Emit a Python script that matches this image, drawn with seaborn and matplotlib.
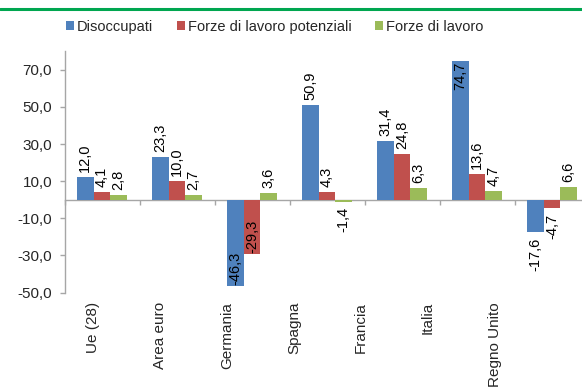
import numpy as np
import pandas as pd
import matplotlib
matplotlib.use("Agg")
import matplotlib.pyplot as plt
from matplotlib.lines import Line2D
from matplotlib.patches import Patch
import seaborn as sns

# ---- data ----
paesi = ["Ue (28)", "Area euro", "Germania", "Spagna", "Francia", "Italia", "Regno Unito"]
serie = ["Disoccupati", "Forze di lavoro potenziali", "Forze di lavoro"]
disoccupati = [12.0, 23.3, -46.3, 50.9, 31.4, 74.7, -17.6]
forze_potenziali = [4.1, 10.0, -29.3, 4.3, 24.8, 13.6, -4.7]
forze_lavoro = [2.8, 2.7, 3.6, -1.4, 6.3, 4.7, 6.6]
y_ticks = [-50, -30, -10, 10, 30, 50, 70]

colori = ["#4F81BD", "#C0504D", "#9BBB59"]

df = pd.DataFrame({
    "paese": paesi * 3,
    "serie": np.repeat(serie, len(paesi)),
    "valore": disoccupati + forze_potenziali + forze_lavoro,
})

sns.set_theme(style="white")
plt.rcParams["font.family"] = ["Liberation Sans", "DejaVu Sans"]

W, H = 582, 389
fig = plt.figure(figsize=(W / 100, H / 100), dpi=100)
fig.patch.set_facecolor("white")

# axes area in pixels (extends slightly past the right edge, as in the reference)
left_px, right_px, top_px, bottom_px = 64.5, 64.5 + 75 * 7, 51.3, 292.5
ax = fig.add_axes([left_px / W, 1 - bottom_px / H, (right_px - left_px) / W, (bottom_px - top_px) / H])

sns.barplot(data=df, x="paese", y="valore", hue="serie", hue_order=serie,
            order=paesi, palette=colori, width=2 / 3, gap=0, ax=ax,
            legend=False, linewidth=0, saturation=1)

ymin, ymax = -50, 80
ax.set_ylim(ymin, ymax)
ax.set_xlim(-0.5, len(paesi) - 0.5)
ax.set_xlabel("")
ax.set_ylabel("")

grey = "#A6A6A6"
for s in ["top", "right", "bottom"]:
    ax.spines[s].set_visible(False)
ax.spines["left"].set_color(grey)
ax.spines["left"].set_linewidth(1)

ax.set_yticks(y_ticks)
ax.set_yticklabels([f"{v:.1f}".replace(".", ",") for v in y_ticks], fontsize=11)
ax.tick_params(axis="y", left=True, length=3.4, width=1, color=grey, pad=5.5, direction="out")

# category labels (rotated) at the bottom
lab_pos = np.arange(len(paesi)) * (67 / 75) - 0.12
ax.set_xticks(lab_pos)
ax.set_xticklabels(paesi, rotation=90, fontsize=11, va="top", ha="center")
ax.tick_params(axis="x", bottom=True, length=0, pad=6.8)

# horizontal axis crossing at zero with category boundary ticks
zero_loc = (0 - ymin) / (ymax - ymin)
sec = ax.secondary_xaxis(zero_loc)
sec.set_xticks(np.arange(len(paesi) + 1) - 0.5)
sec.tick_params(axis="x", bottom=True, length=3.6, width=1, color=grey, labelbottom=False, direction="out")
sec.spines["bottom"].set_color(grey)
sec.spines["bottom"].set_linewidth(1)

# value labels
fmt = lambda v: f"{v:.1f}".replace(".", ",")
anns = []
for cont in ax.containers:
    vals = cont.datavalues
    a = ax.bar_label(cont, labels=[fmt(v) for v in vals], rotation=90, padding=3.6,
                     fontsize=10.5, color="black")
    anns.extend(zip(a, vals))

fig.canvas.draw()
renderer = fig.canvas.get_renderer()
axbb = ax.get_window_extent(renderer)
margin = 8
for ann, v in anns:
    bb = ann.get_window_extent(renderer)
    if v >= 0 and bb.y1 > axbb.y1 - 2:
        ann.xyann = (0, -0.5)
        ann.set_va("top")
    elif v < 0 and bb.y0 < axbb.y0 + margin:
        ann.xyann = (0, 0.5)
        ann.set_va("bottom")

# legend
handles = [Patch(facecolor=c, edgecolor="none") for c in colori]
fig.legend(handles, serie, loc="center", bbox_to_anchor=(274.5 / W, 1 - 27 / H), ncol=3,
           frameon=False, fontsize=10.5, handlelength=0.55, handleheight=0.55,
           handletextpad=0.2, columnspacing=1.6, borderaxespad=0, borderpad=0)

# green rule at top
fig.add_artist(Line2D([0, 1], [1 - 9.2 / H, 1 - 9.2 / H], transform=fig.transFigure,
                      color="#00A650", linewidth=2.2))

fig.savefig("out.png", dpi=100)
